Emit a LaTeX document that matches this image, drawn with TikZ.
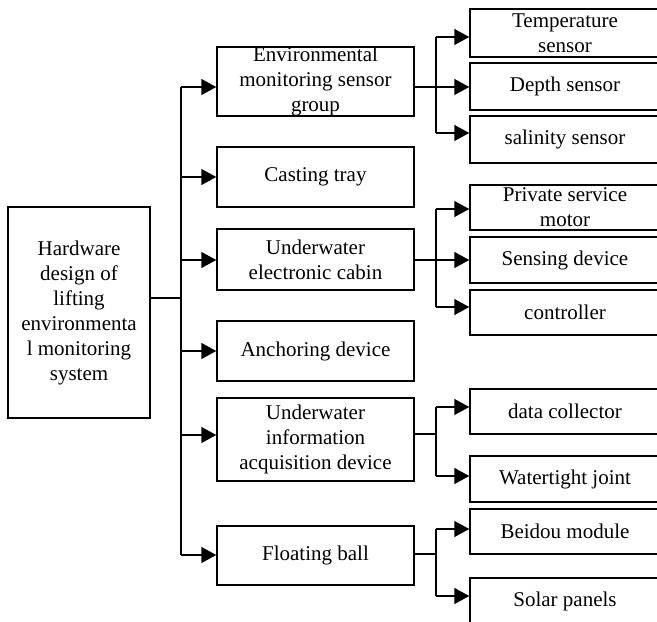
\documentclass[tikz,border=0pt]{standalone}
\usepackage{fontspec}
\setmainfont{Liberation Serif}
\usetikzlibrary{arrows.meta}
\begin{document}
\begin{tikzpicture}[x=1pt,y=-1pt,
  box/.style={draw, line width=1.5pt, inner sep=0pt, align=center,
    font=\fontsize{21}{25}\selectfont},
  midbox/.style={box, minimum width=197pt},
  leafbox/.style={box, minimum width=190pt},
  link/.style={line width=1.5pt},
  arr/.style={line width=1.5pt, -{Triangle[length=15pt,width=16pt]}}]
\useasboundingbox (0,0) rectangle (657,622);
\clip (0,0) rectangle (657,622);

% root
\node[box, minimum width=142pt, minimum height=211pt] (L) at (79,312.5)
  {Hardware\\design of\\lifting\\environmenta\\l monitoring\\system};

% second level
\node[midbox, minimum height=69pt] (M1) at (315.5,81.5) {Environmental\\monitoring sensor\\group};
\node[midbox, minimum height=60pt] (M2) at (315.5,177) {Casting tray};
\node[midbox, minimum height=61pt] (M3) at (315.5,259.5) {Underwater\\electronic cabin};
\node[midbox, minimum height=60pt] (M4) at (315.5,351) {Anchoring device};
\node[midbox, minimum height=83pt] (M5) at (315.5,439.5) {Underwater\\information\\acquisition device};
\node[midbox, minimum height=59pt] (M6) at (315.5,555.5) {Floating ball};

% third level
\node[leafbox, minimum height=48pt] (R1) at (565,33) {Temperature\\sensor};
\node[leafbox, minimum height=47pt] (R2) at (565,86.5) {Depth sensor};
\node[leafbox, minimum height=47pt] (R3) at (565,139.5) {salinity sensor};
\node[leafbox, minimum height=45pt] (R4) at (565,207.5) {Private service\\motor};
\node[leafbox, minimum height=46pt] (R5) at (565,260) {Sensing device};
\node[leafbox, minimum height=45pt] (R6) at (565,312.5) {controller};
\node[leafbox, minimum height=45pt] (R7) at (565,411.5) {data collector};
\node[leafbox, minimum height=46pt] (R8) at (565,479) {Watertight joint};
\node[leafbox, minimum height=45pt] (R9) at (565,531.5) {Beidou module};
\node[leafbox, minimum height=46pt] (R10) at (565,601) {Solar panels};

% main trunk
\coordinate (T0) at (181,298);
\coordinate (T1) at (181,87);
\coordinate (T2) at (181,177);
\coordinate (T3) at (181,260);
\coordinate (T4) at (181,351);
\coordinate (T5) at (181,435);
\coordinate (T6) at (181,555);
\draw[link] (L.east |- T0) -- (T0);
\draw[link] (T1) -- (T6);
\foreach \i in {1,...,6} \draw[arr] (T\i) -- (T\i -| M\i.west);

% branch of the sensor group
\coordinate (A0) at (436,87);
\coordinate (A1) at (436,37);
\coordinate (A3) at (436,133);
\draw[link] (M1.east |- A0) -- (A0);
\draw[link] (A1) -- (A3);
\draw[arr] (A1) -- (A1 -| R1.west);
\draw[arr] (A0) -- (A0 -| R2.west);
\draw[arr] (A3) -- (A3 -| R3.west);

% branch of the electronic cabin
\coordinate (B0) at (436,260);
\coordinate (B1) at (436,209);
\coordinate (B3) at (436,307);
\draw[link] (M3.east |- B0) -- (B0);
\draw[link] (B1) -- (B3);
\draw[arr] (B1) -- (B1 -| R4.west);
\draw[arr] (B0) -- (B0 -| R5.west);
\draw[arr] (B3) -- (B3 -| R6.west);

% branch of the acquisition device
\coordinate (C0) at (436,434);
\coordinate (C1) at (436,407);
\coordinate (C2) at (436,476);
\draw[link] (M5.east |- C0) -- (C0);
\draw[link] (C1) -- (C2);
\draw[arr] (C1) -- (C1 -| R7.west);
\draw[arr] (C2) -- (C2 -| R8.west);

% branch of the floating ball
\coordinate (D0) at (436,554);
\coordinate (D1) at (436,529);
\coordinate (D2) at (436,596);
\draw[link] (M6.east |- D0) -- (D0);
\draw[link] (D1) -- (D2);
\draw[arr] (D1) -- (D1 -| R9.west);
\draw[arr] (D2) -- (D2 -| R10.west);
\end{tikzpicture}
\end{document}
